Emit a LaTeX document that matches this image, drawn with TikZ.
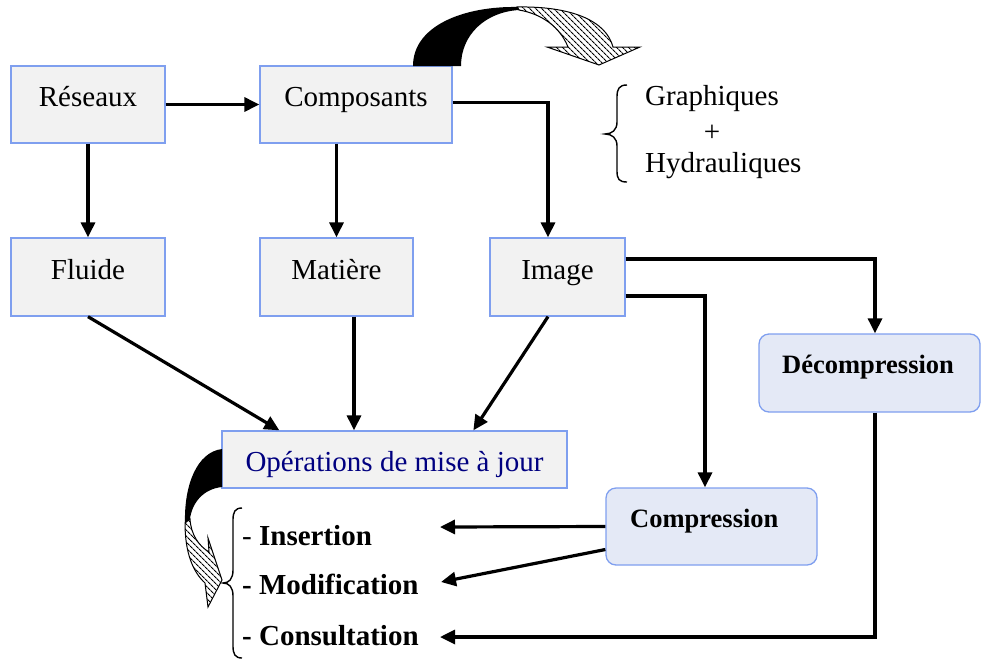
\documentclass[tikz,border=0pt]{standalone}
\usepackage{fontspec}
\setmainfont{Liberation Serif}
\usetikzlibrary{arrows.meta,patterns.meta}
\definecolor{boxfill}{HTML}{F2F2F2}
\definecolor{boxline}{HTML}{7F9FEF}
\definecolor{rfill}{HTML}{E4E9F6}
\definecolor{opsblue}{HTML}{000080}
\newcommand\bigfs{\fontsize{29}{34}\selectfont}
\newcommand\midfs{\fontsize{26.5}{32}\selectfont}
\tikzset{
  gbox/.style={draw=boxline, line width=1.3pt, fill=boxfill, inner sep=0pt,
    text height=12pt, text depth=8pt, font=\bigfs},
  rbox/.style={draw=boxline, line width=1.3pt, fill=rfill, rounded corners=10pt, inner sep=0pt},
  btxt/.style={inner sep=0pt, font=\midfs\bfseries, anchor=base west},
  ltxt/.style={inner sep=0pt, font=\bigfs, anchor=base west},
  arr/.style={line width=3.2pt, -{Triangle[length=15pt,width=14pt]}},
  hatch/.style={draw=black, line width=1pt, pattern={Lines[angle=-45,distance=4pt,line width=1.1pt]}},
  bracestyle/.style={line width=1.4pt}
}
\begin{document}
\begin{tikzpicture}[x=1pt,y=-1pt]
\useasboundingbox (0,0) rectangle (981,659);
% boxes
\node[gbox, minimum width=154pt, minimum height=77pt] (res) at (88,104.5) {Réseaux};
\node[gbox, minimum width=192pt, minimum height=77pt] (comp) at (356,104.5) {Composants};
\node[gbox, minimum width=154pt, minimum height=78pt] (flu) at (88,277) {Fluide};
\node[gbox, minimum width=153pt, minimum height=78pt] (mat) at (336.5,277) {Matière};
\node[gbox, minimum width=135pt, minimum height=78pt] (img) at (557.5,277) {Image};
\node[gbox, minimum width=345pt, minimum height=57pt, text=opsblue, text height=24pt, text depth=0pt] (ops) at (394.5,459.5) {Opérations de mise à jour};
\node[rbox, minimum width=221pt, minimum height=78pt] (dec) at (869.5,373) {};
\node[btxt] (dect) at (782,373) {Décompression};
\node[rbox, minimum width=211pt, minimum height=77pt] (cmp) at (711.5,526.5) {};
\node[btxt] (cmpt) at (630,527) {Compression};
% right text with brace
\node[ltxt] (gra) at (645,105) {Graphiques};
\node[inner sep=0pt, font=\bigfs] (plus) at (712,133) {+};
\node[ltxt] (hyd) at (645,172) {Hydrauliques};
\draw[bracestyle] (627,85) .. controls (619,85) and (617,89) .. (617,97) -- (617,122)
  .. controls (617,130) and (612,134) .. (605,134)
  .. controls (612,134) and (617,138) .. (617,146) -- (617,171)
  .. controls (617,179) and (619,182) .. (627,182);
% list
\node[ltxt] (ins) at (242,545) {- \textbf{Insertion}};
\node[ltxt, font=\bigfs\bfseries] (mod) at (242,594) {- Modification};
\node[ltxt, font=\bigfs\bfseries] (con) at (242,645) {- Consultation};
\draw[bracestyle] (242,508) .. controls (235,508) and (233,512) .. (233,520) -- (233,570)
  .. controls (233,579) and (229,583) .. (223,583)
  .. controls (229,583) and (233,587) .. (233,596) -- (233,646)
  .. controls (233,654) and (235,658) .. (242,658);
\coordinate (tipI) at (440,527);
\coordinate (tipM) at (441,582);
\coordinate (tipC) at (440,637);
% connectors
\draw[arr] (res.east) -- (comp.west);
\draw[arr] (res.south) -- (flu.north);
\draw[arr] (mat.north |- comp.south) -- (mat.north);
\draw[arr] ([yshift=2pt]comp.east) -| ([xshift=-9.5pt]img.north);
\draw[arr] ([yshift=18pt]img.east) -| ([xshift=5.5pt]dec.north);
\draw[arr] ([yshift=-19pt]img.east) -| ([xshift=-6.5pt]cmp.north);
\draw[arr] (flu.south) -- ([xshift=58pt]ops.north west);
\draw[arr] ([xshift=17.5pt]mat.south) -- ([xshift=17.5pt]mat.south |- ops.north);
\draw[arr] ([xshift=-9.5pt]img.south) -- ([xshift=252pt]ops.north west);
\draw[arr] (cmp.west) -- (tipI);
\draw[arr] ([yshift=-23pt]cmp.west) -- (tipM);
\draw[arr] ([xshift=5.5pt]dec.south) |- (tipC);
% top curved arrow
\fill (413,66) .. controls (413,25) and (465,6) .. (518,7) -- (519,10)
  .. controls (485,12) and (461,35) .. (461,66) -- cycle;
\path[hatch] (517,7) .. controls (570,6) and (606,20) .. (613,47) -- (640,47) -- (599,65)
  -- (547,47) -- (568,47) .. controls (560,27) and (542,14) .. (519,10) -- cycle;
% left curved arrow
\fill (222,449) .. controls (197,452) and (184,485) .. (185,523) -- (190,519)
  .. controls (192,503) and (203,489) .. (222,487) -- cycle;
\path[hatch] (185,523) .. controls (185,553) and (193,572) .. (205,583) -- (208,607)
  -- (222,580) -- (208,538) -- (209,552) .. controls (199,546) and (191,535) .. (190,519) -- cycle;
\end{tikzpicture}
\end{document}
